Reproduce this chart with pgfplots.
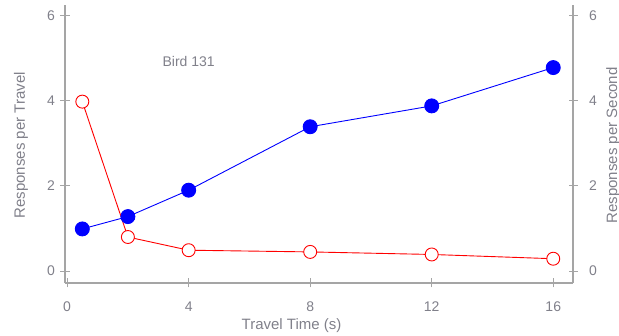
\documentclass[border=0pt]{standalone}
\usepackage{pgfplots}
\pgfplotsset{compat=1.18}
\usepackage{fontspec}
\setmainfont{Liberation Sans}
\definecolor{txt}{RGB}{128,128,138}
\definecolor{axl}{RGB}{165,165,165}
\begin{document}
\begin{tikzpicture}
\useasboundingbox (0pt,0pt) rectangle (619pt,336pt);
\pgfplotsset{
 common/.style={
  at={(65pt,53pt)}, anchor=south west, scale only axis, width=508pt, height=278pt,
  xmin=-0.07, xmax=16.65, ymin=-0.28, ymax=6.25,
  axis line style={axl, line width=1.2pt},
  tick style={axl, line width=1pt},
  tick align=outside, major tick length=9pt,
  ticklabel style={text=txt, font=\fontsize{14}{16}\selectfont},
  ytick={0,2,4,6},
  /pgf/number format/assume math mode=true,
  clip=false,
 }}
\begin{axis}[common, axis x line=bottom, axis y line=left, xtick={0,4,8,12,16},
 x axis line style={-}, y axis line style={-},
 every outer x axis line/.append style={-}, every outer y axis line/.append style={-},
 xticklabel style={yshift=-11pt},
 yticklabel style={xshift=-2pt},
 xlabel={Travel Time (s)}, ylabel={Responses per Travel},
 every axis x label/.style={at={(axis description cs:0.446,-0.152)},anchor=center,text=txt,font=\fontsize{15}{17}\selectfont},
 every axis y label/.style={at={(axis description cs:-0.0865,0.495)},anchor=center,rotate=90,text=txt,font=\fontsize{15}{17}\selectfont}]
\addplot[red, line width=0.9pt, mark=*, mark size=6.5pt, mark options={fill=white, draw=red, line width=0.9pt}]
 coordinates {(0.5,3.98)(2,0.8)(4,0.49)(8,0.45)(12,0.39)(16,0.29)};
\addplot[blue, line width=0.9pt, mark=*, mark size=7pt, mark options={fill=blue, draw=blue}]
 coordinates {(0.5,0.99)(2,1.28)(4,1.9)(8,3.39)(12,3.88)(16,4.78)};
\node[text=txt, font=\fontsize{14}{16}\selectfont] at (axis cs:4.0,4.92) {Bird 131};
\end{axis}
\begin{axis}[common, axis x line=none, axis y line=right,
 y axis line style={-}, every outer y axis line/.append style={-},
 yticklabel style={xshift=8pt},
 ylabel={Responses per Second},
 every axis y label/.style={at={(axis description cs:1.079,0.495)},anchor=center,rotate=90,text=txt,font=\fontsize{15}{17}\selectfont}]
\end{axis}
\end{tikzpicture}
\end{document}
